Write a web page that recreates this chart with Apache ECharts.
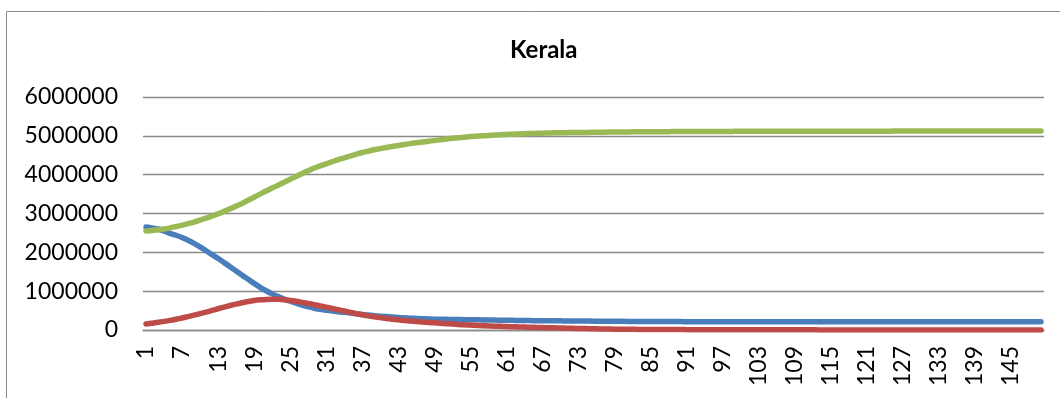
<!DOCTYPE html>
<html>
<head>
<meta charset="utf-8">
<style>
  html, body { margin: 0; padding: 0; background: #ffffff; }
  #chart { width: 1060px; height: 398px; }
</style>
<script src="https://cdn.jsdelivr.net/npm/echarts@6/dist/echarts.min.js"></script>
</head>
<body>
<div id="chart"></div>
<script>
// Day numbers 1..150
const days = Array.from({ length: 150 }, (_, i) => String(i + 1));

// Y axis ticks
const yMin = 0;
const yMax = 6000000;
const yStep = 1000000;

// Susceptible (blue)
const susceptible = [
  2650000, 2630000, 2600000, 2550000, 2490000, 2440000, 2380000, 2310000, 2230000, 2140000,
  2040000, 1940000, 1840000, 1735000, 1630000, 1520000, 1410000, 1305000, 1200000, 1100000,
  1010000, 930000, 860000, 795000, 740000, 690000, 640000, 598000, 560000, 533000,
  510000, 490000, 470000, 455000, 440000, 420000, 400000, 385000, 370000, 357000,
  345000, 333000, 322000, 313000, 305000, 297000, 290000, 285000, 280000, 277000,
  275000, 272000, 270000, 267000, 265000, 262000, 260000, 257000, 255000, 252000,
  250000, 248000, 246000, 244000, 242000, 240000, 239000, 237000, 236000, 235000,
  234000, 233000, 231000, 230000, 229000, 228000, 227000, 226000, 225000, 223000,
  222000, 221000, 220000, 219000, 218000, 218000, 217000, 217000, 216000, 216000,
  215000, 215000, 215000, 214000, 214000, 214000, 213000, 213000, 213000, 213000,
  213000, 213000, 213000, 212000, 212000, 212000, 212000, 212000, 212000, 212000,
  212000, 212000, 212000, 212000, 212000, 212000, 212000, 212000, 212000, 212000,
  212000, 212000, 212000, 212000, 212000, 212000, 212000, 212000, 212000, 212000,
  212000, 212000, 212000, 212000, 212000, 212000, 212000, 212000, 212000, 212000,
  212000, 212000, 212000, 212000, 212000, 212000, 212000, 212000, 212000, 212000
];

// Infected (red)
const infected = [
  155000, 175000, 198000, 222000, 248000, 278000, 310000, 345000, 382000, 420000,
  460000, 503000, 547000, 590000, 630000, 668000, 702000, 733000, 758000, 777000,
  788000, 792000, 789000, 778000, 762000, 739000, 712000, 683000, 652000, 620000,
  588000, 555000, 522000, 488000, 455000, 422000, 392000, 364000, 340000, 318000,
  298000, 279000, 261000, 245000, 230000, 217000, 205000, 194000, 184000, 174000,
  164000, 152000, 142000, 134000, 126000, 118000, 111000, 105000, 99000, 94000,
  89000, 84000, 79000, 75000, 71000, 67000, 63000, 59000, 55000, 51000,
  47000, 43000, 39000, 36000, 33000, 30000, 27000, 24000, 22000, 20000,
  18500, 17000, 16000, 15000, 14000, 13000, 12000, 11000, 10500, 10000,
  9500, 9000, 8500, 8000, 7500, 7000, 6500, 6000, 5500, 5000,
  4800, 4600, 4400, 4200, 4000, 3900, 3800, 3700, 3600, 3500,
  3400, 3300, 3200, 3100, 3000, 3000, 2900, 2900, 2800, 2800,
  2700, 2700, 2600, 2600, 2500, 2500, 2500, 2400, 2400, 2400,
  2300, 2300, 2300, 2300, 2300, 2200, 2200, 2200, 2200, 2200,
  2100, 2100, 2100, 2100, 2100, 2000, 2000, 2000, 2000, 2000
];

// Recovered (green)
const recovered = [
  2550000, 2560000, 2580000, 2600000, 2630000, 2665000, 2700000, 2740000, 2780000, 2828000,
  2880000, 2935000, 2990000, 3055000, 3120000, 3190000, 3260000, 3340000, 3420000, 3500000,
  3580000, 3655000, 3730000, 3805000, 3880000, 3955000, 4030000, 4100000, 4170000, 4225000,
  4280000, 4335000, 4390000, 4435000, 4480000, 4525000, 4570000, 4605000, 4640000, 4670000,
  4700000, 4725000, 4750000, 4775000, 4800000, 4820000, 4840000, 4860000, 4880000, 4900000,
  4920000, 4935000, 4950000, 4965000, 4980000, 4990000, 5000000, 5010000, 5020000, 5028000,
  5035000, 5042000, 5050000, 5055000, 5060000, 5065000, 5069000, 5073000, 5077000, 5080000,
  5082000, 5084000, 5086000, 5088000, 5090000, 5092000, 5094000, 5096000, 5098000, 5100000,
  5101000, 5102000, 5103000, 5104000, 5105000, 5106000, 5107000, 5108000, 5109000, 5110000,
  5111000, 5111000, 5112000, 5112000, 5113000, 5113000, 5114000, 5114000, 5115000, 5115000,
  5115000, 5115000, 5116000, 5116000, 5116000, 5116000, 5117000, 5117000, 5117000, 5117000,
  5118000, 5118000, 5118000, 5118000, 5119000, 5119000, 5119000, 5119000, 5120000, 5120000,
  5120000, 5120000, 5120000, 5120000, 5120000, 5125000, 5125000, 5125000, 5125000, 5125000,
  5125000, 5125000, 5125000, 5125000, 5125000, 5125000, 5125000, 5125000, 5125000, 5125000,
  5125000, 5125000, 5125000, 5125000, 5125000, 5125000, 5125000, 5125000, 5125000, 5125000
];

const chart = echarts.init(document.getElementById('chart'), null, { renderer: 'canvas' });

const labelFont = 'Lato, "Liberation Sans", sans-serif';

function lineSeries(name, data, color) {
  return {
    name: name,
    type: 'line',
    data: data,
    smooth: 0.3,
    symbol: 'none',
    lineStyle: { color: color, width: 5.5, cap: 'round', join: 'round' },
    itemStyle: { color: color },
    emphasis: { disabled: true },
    animation: false
  };
}

chart.setOption({
  backgroundColor: '#ffffff',
  animation: false,
  title: {
    text: 'Kerala',
    left: 505,
    top: 33,
    textStyle: {
      fontFamily: labelFont,
      fontWeight: 'bold',
      fontSize: 24,
      color: '#000000'
    }
  },
  graphic: [
    {
      type: 'rect',
      shape: { x: 6.5, y: 11.5, width: 1200, height: 600 },
      style: { fill: 'none', stroke: '#8a8a8a', lineWidth: 1 },
      silent: true,
      z: -1
    }
  ],
  grid: {
    left: 143,
    right: 16,
    top: 97,
    bottom: 68,
    containLabel: false
  },
  xAxis: {
    type: 'category',
    data: days,
    boundaryGap: true,
    axisLine: { show: true, lineStyle: { color: '#8a8a8a', width: 1.4 } },
    axisTick: { show: false },
    axisLabel: {
      interval: 5,
      rotate: 90,
      margin: 16,
      fontFamily: labelFont,
      fontSize: 23,
      color: '#000000'
    },
    splitLine: { show: false }
  },
  yAxis: {
    type: 'value',
    min: yMin,
    max: yMax,
    interval: yStep,
    axisLine: { show: false },
    axisTick: { show: false },
    axisLabel: {
      margin: 25,
      fontFamily: labelFont,
      fontSize: 23,
      color: '#000000',
      formatter: (v) => String(v)
    },
    splitLine: { show: true, lineStyle: { color: '#8a8a8a', width: 1.4 } }
  },
  series: [
    lineSeries('Susceptible', susceptible, '#4a7ebb'),
    lineSeries('Infected', infected, '#be4b48'),
    lineSeries('Recovered', recovered, '#98b954')
  ]
});
</script>
</body>
</html>
